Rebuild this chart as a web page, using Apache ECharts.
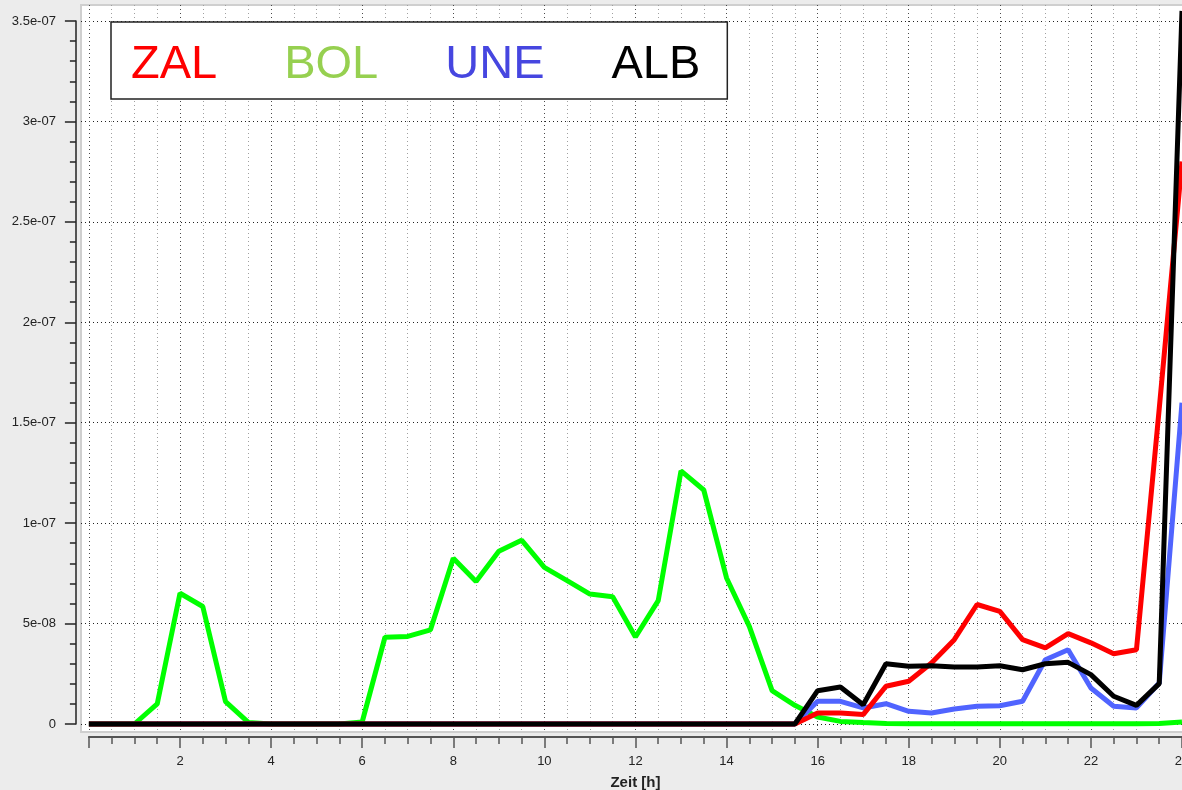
<!DOCTYPE html>
<html>
<head>
<meta charset="utf-8">
<script src="https://cdn.jsdelivr.net/npm/echarts@6/dist/echarts.min.js"></script>
<style>
  html, body { margin: 0; padding: 0; background: #ececec; }
  #main { width: 1182px; height: 790px; }
</style>
</head>
<body>
<div id="main"></div>
<script>
// Zeitachse in Stunden (halbstuendlich)
var hours = [0, 0.5, 1, 1.5, 2, 2.5, 3, 3.5, 4, 4.5, 5, 5.5, 6, 6.5, 7, 7.5, 8, 8.5, 9, 9.5,
  10, 10.5, 11, 11.5, 12, 12.5, 13, 13.5, 14, 14.5, 15, 15.5, 16, 16.5, 17, 17.5, 18, 18.5, 19, 19.5,
  20, 20.5, 21, 21.5, 22, 22.5, 23, 23.5, 24];

var zal = [0, 0, 0, 0, 0, 0, 0, 0, 0, 0, 0, 0, 0, 0, 0, 0, 0, 0, 0, 0,
  0, 0, 0, 0, 0, 0, 0, 0, 0, 0, 0, 0, 0.55e-8, 0.55e-8, 0.47e-8, 1.88e-8, 2.13e-8, 3.04e-8, 4.2e-8, 5.95e-8,
  5.61e-8, 4.2e-8, 3.79e-8, 4.5e-8, 4.04e-8, 3.5e-8, 3.7e-8, 15.7e-8, 28.0e-8];

var bol = [0, 0, 0, 1.0e-8, 6.51e-8, 5.85e-8, 1.11e-8, 0.08e-8, 0, 0, 0, 0, 0.1e-8, 4.32e-8, 4.36e-8, 4.69e-8, 8.25e-8, 7.1e-8, 8.6e-8, 9.15e-8,
  7.8e-8, 7.14e-8, 6.47e-8, 6.34e-8, 4.33e-8, 6.14e-8, 12.6e-8, 11.65e-8, 7.27e-8, 4.86e-8, 1.66e-8, 0.93e-8, 0.35e-8, 0.13e-8, 0.07e-8, 0.03e-8, 0.01e-8, 0.01e-8, 0.01e-8, 0.01e-8,
  0.01e-8, 0.01e-8, 0.01e-8, 0.01e-8, 0.01e-8, 0.01e-8, 0.01e-8, 0.02e-8, 0.1e-8];

var une = [0, 0, 0, 0, 0, 0, 0, 0, 0, 0, 0, 0, 0, 0, 0, 0, 0, 0, 0, 0,
  0, 0, 0, 0, 0, 0, 0, 0, 0, 0, 0, 0, 1.13e-8, 1.13e-8, 0.8e-8, 1.01e-8, 0.63e-8, 0.55e-8, 0.75e-8, 0.88e-8,
  0.91e-8, 1.13e-8, 3.2e-8, 3.7e-8, 1.79e-8, 0.88e-8, 0.8e-8, 2.04e-8, 16.0e-8];

var alb = [0, 0, 0, 0, 0, 0, 0, 0, 0, 0, 0, 0, 0, 0, 0, 0, 0, 0, 0, 0,
  0, 0, 0, 0, 0, 0, 0, 0, 0, 0, 0, 0, 1.66e-8, 1.84e-8, 0.96e-8, 3.0e-8, 2.87e-8, 2.9e-8, 2.84e-8, 2.84e-8,
  2.9e-8, 2.7e-8, 3.0e-8, 3.07e-8, 2.46e-8, 1.38e-8, 0.93e-8, 2.01e-8, 35.5e-8];

var yTicks = [0, 5e-8, 1e-7, 1.5e-7, 2e-7, 2.5e-7, 3e-7, 3.5e-7];

var FONT = "'Liberation Sans', Arial, Helvetica, sans-serif";

function pairs(vals) {
  return hours.map(function (h, i) { return [h, vals[i]]; });
}

function expLabel(v) {
  if (v === 0) return '0';
  var s = Number(v.toPrecision(4)).toExponential();
  return s.replace(/e([+-])(\d)$/, function (m, sign, d) { return 'e' + sign + '0' + d; });
}

var myChart = echarts.init(document.getElementById('main'));

var dotted = [1, 3];

var option = {
  animation: false,
  backgroundColor: '#ececec',
  textStyle: { fontFamily: FONT },
  grid: [
    // weisser Hintergrund
    { left: 81, right: -10, top: 5, bottom: 58, show: true, backgroundColor: '#ffffff', borderColor: '#cfcfcf', borderWidth: 2, containLabel: false, outerBoundsMode: 'none' },
    // senkrechte Gitterlinien
    { left: 88.9, right: 0, top: 5, bottom: 58, containLabel: false, outerBoundsMode: 'none' },
    // waagrechte Gitterlinien
    { left: 81, right: -10, top: 21, bottom: 66, containLabel: false, outerBoundsMode: 'none' },
    // Daten
    { left: 88.9, right: 0, top: 21, bottom: 66, containLabel: false, outerBoundsMode: 'none' }
  ],
  legend: {
    left: 111,
    top: 22,
    orient: 'horizontal',
    icon: 'none',
    itemWidth: 0,
    itemHeight: 50,
    itemGap: 62,
    padding: [18, 27, 9, 15],
    backgroundColor: '#ffffff',
    borderColor: '#222222',
    borderWidth: 1.5,
    borderRadius: 0,
    selectedMode: false,
    textStyle: { fontSize: 47, fontFamily: FONT, lineHeight: 50 },
    data: [
      { name: 'ZAL', textStyle: { color: '#ff0000' } },
      { name: 'BOL', textStyle: { color: '#96d050' } },
      { name: 'UNE', textStyle: { color: '#4646e0' } },
      { name: 'ALB', textStyle: { color: '#000000' } }
    ]
  },
  xAxis: [
    { gridIndex: 0, type: 'value', show: false, min: 0, max: 1 },
    {
      gridIndex: 1, type: 'value', min: 0, max: 24, interval: 2,
      axisLine: { show: false }, axisTick: { show: false }, axisLabel: { show: false },
      splitLine: { show: true, lineStyle: { color: '#4a4a4a', type: dotted, width: 1 } },
      minorTick: { show: false, splitNumber: 4 },
      minorSplitLine: { show: true, lineStyle: { color: '#a0a0a0', type: dotted, width: 1 } }
    },
    { gridIndex: 2, type: 'value', show: false, min: 0, max: 1 },
    {
      gridIndex: 3, type: 'value', min: 0, max: 24, interval: 2,
      position: 'bottom', offset: 13,
      name: 'Zeit [h]', nameLocation: 'middle', nameGap: 38,
      nameTextStyle: { fontSize: 15, fontWeight: 'bold', color: '#222222', fontFamily: FONT },
      axisLine: { show: true, onZero: false, lineStyle: { color: '#555555', width: 2 } },
      axisTick: { show: true, length: 11, lineStyle: { color: '#555555', width: 1.5 } },
      minorTick: { show: true, splitNumber: 4, length: 7, lineStyle: { color: '#555555', width: 1.5 } },
      axisLabel: { fontSize: 13, color: '#222222', margin: 18, showMinLabel: false, fontFamily: FONT },
      splitLine: { show: false }
    }
  ],
  yAxis: [
    { gridIndex: 0, type: 'value', show: false, min: 0, max: 1 },
    { gridIndex: 1, type: 'value', show: false, min: 0, max: 1 },
    {
      gridIndex: 2, type: 'value', min: 0, max: yTicks[yTicks.length - 1], interval: yTicks[1],
      axisLine: { show: false }, axisTick: { show: false }, axisLabel: { show: false },
      splitLine: { show: true, lineStyle: { color: '#222222', type: dotted, width: 1 } }
    },
    {
      gridIndex: 3, type: 'value', min: 0, max: yTicks[yTicks.length - 1], interval: yTicks[1],
      position: 'left', offset: 13,
      axisLine: { show: true, onZero: false, lineStyle: { color: '#222222', width: 1.5 } },
      axisTick: { show: true, length: 11, lineStyle: { color: '#222222', width: 1.5 } },
      minorTick: { show: true, splitNumber: 5, length: 6, lineStyle: { color: '#222222', width: 1.5 } },
      axisLabel: { fontSize: 13, color: '#222222', margin: 20, formatter: expLabel, fontFamily: FONT },
      splitLine: { show: false }
    }
  ],
  series: [
    { name: 'BOL', type: 'line', xAxisIndex: 3, yAxisIndex: 3, data: pairs(bol), showSymbol: false, clip: false,
      lineStyle: { color: '#00ff00', width: 5 }, itemStyle: { color: '#00ff00' }, z: 2 },
    { name: 'UNE', type: 'line', xAxisIndex: 3, yAxisIndex: 3, data: pairs(une), showSymbol: false, clip: false,
      lineStyle: { color: '#5064ff', width: 5 }, itemStyle: { color: '#5064ff' }, z: 3 },
    { name: 'ZAL', type: 'line', xAxisIndex: 3, yAxisIndex: 3, data: pairs(zal), showSymbol: false, clip: false,
      lineStyle: { color: '#ff0000', width: 5 }, itemStyle: { color: '#ff0000' }, z: 4 },
    { name: 'ALB', type: 'line', xAxisIndex: 3, yAxisIndex: 3, data: pairs(alb), showSymbol: false, clip: false,
      lineStyle: { color: '#000000', width: 5 }, itemStyle: { color: '#000000' }, z: 5 }
  ]
};

myChart.setOption(option);
</script>
</body>
</html>
